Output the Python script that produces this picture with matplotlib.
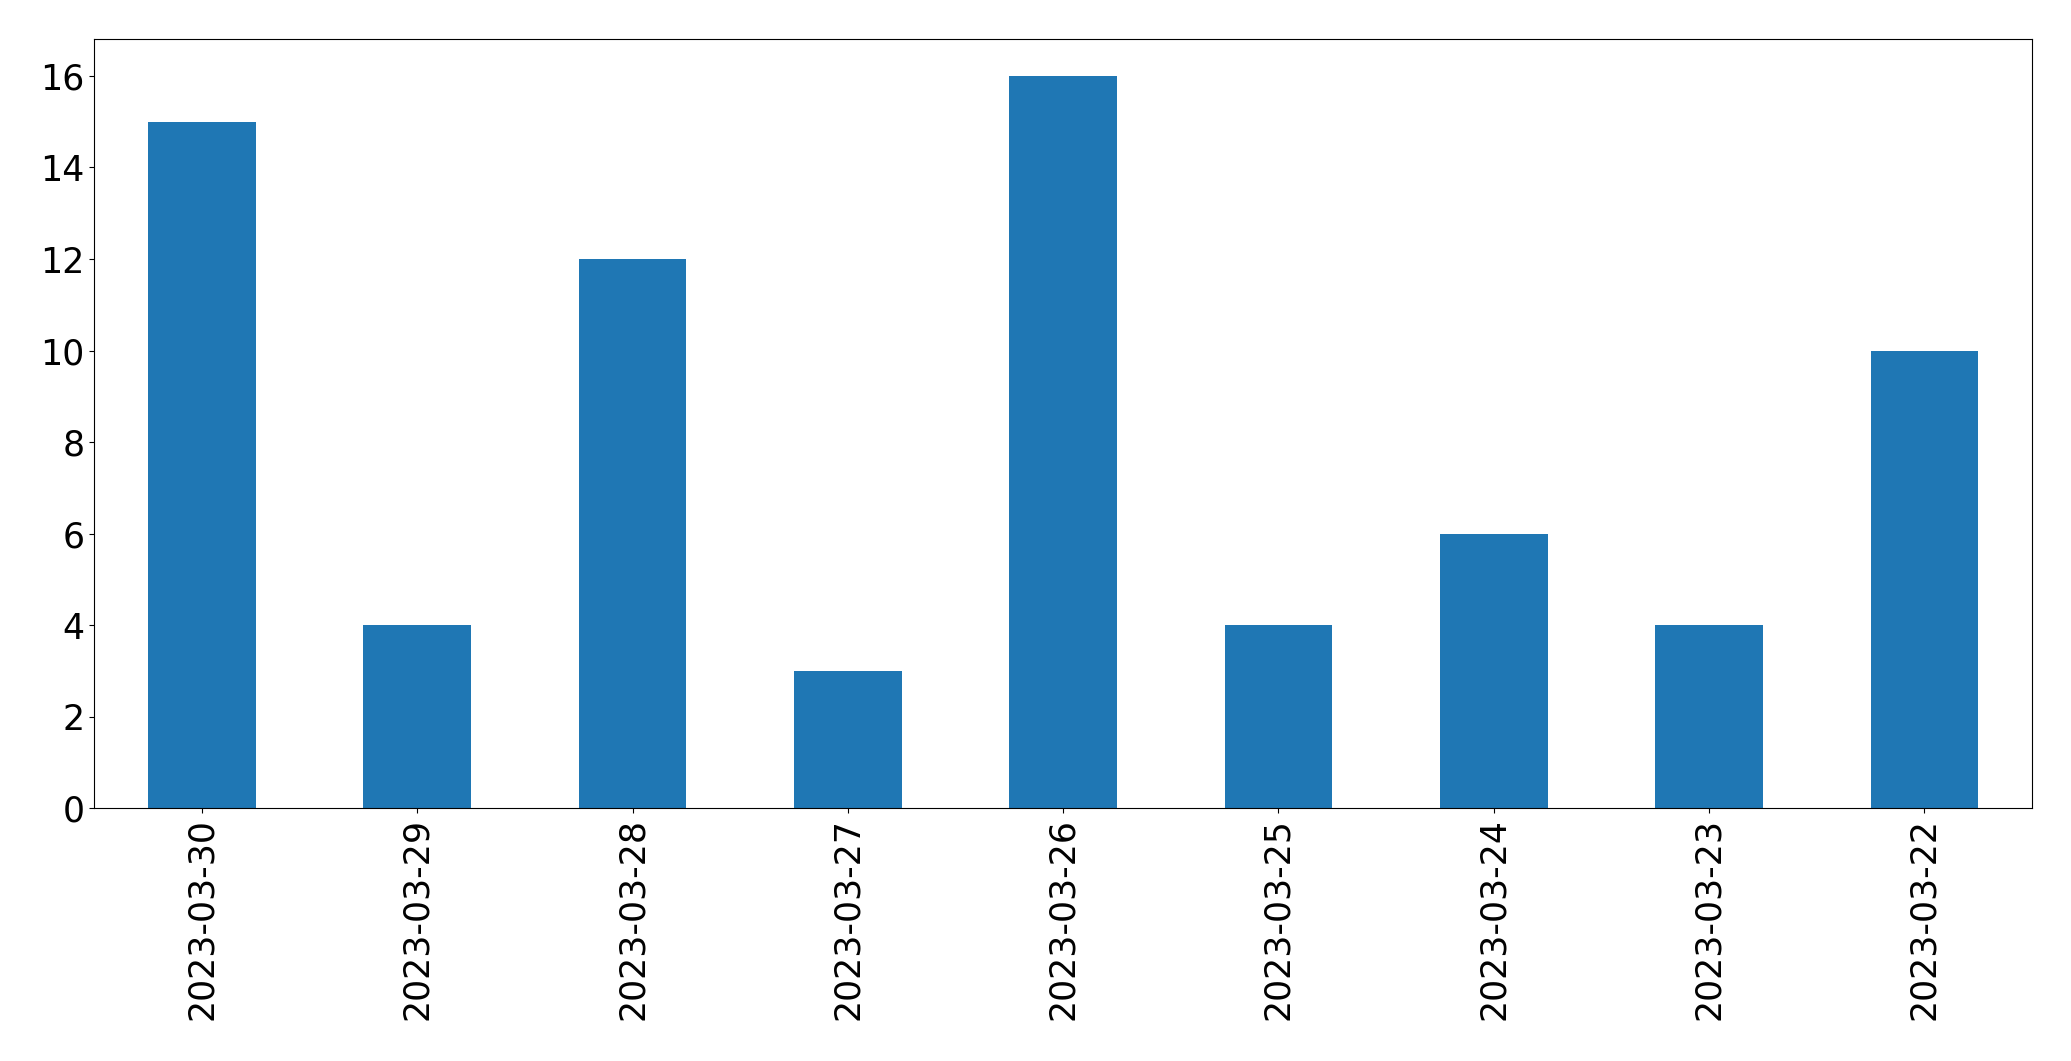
import matplotlib
matplotlib.use("Agg")
from matplotlib import pyplot as plt


# Data
dates = ["2023-03-30", "2023-03-29", "2023-03-28", "2023-03-27", "2023-03-26",
         "2023-03-25", "2023-03-24", "2023-03-23", "2023-03-22"]
counts = [15, 4, 12, 3, 16, 4, 6, 4, 10]


fig, ax = plt.subplots(figsize=(20.71, 10.61), dpi=100)
fig.subplots_adjust(left=0.0455, right=0.9812, top=0.963, bottom=0.238)

positions = range(len(dates))
ax.bar(positions, counts, width=0.5, color="tab:blue")
ax.set_xlim(-0.5, len(dates) - 0.5)
ax.set_xticks(list(positions))
ax.set_xticklabels(dates, rotation=90)
ax.tick_params(axis="both", labelsize=25)

fig.savefig("out.png", dpi=100)
